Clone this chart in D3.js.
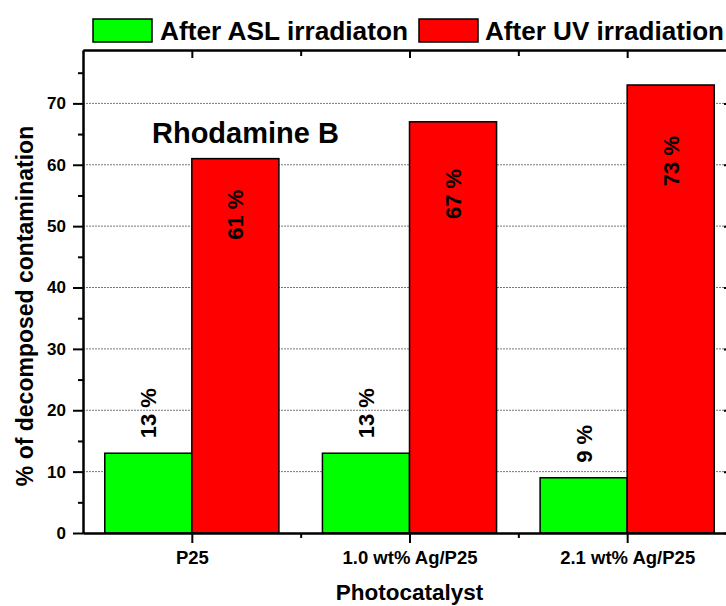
<!DOCTYPE html>
<html>
<head>
<meta charset="utf-8">
<script src="https://cdn.jsdelivr.net/npm/d3@7/dist/d3.min.js"></script>
<style>
  html, body { margin: 0; padding: 0; background: #fff; }
  svg { display: block; }
  text { font-family: "Liberation Sans", Arial, Helvetica, sans-serif; font-weight: bold; fill: #000; }
</style>
</head>
<body>
<svg id="chart" width="726" height="606"></svg>
<script>
// Photocatalytic decomposition of Rhodamine B
const categories = ["P25", "1.0 wt% Ag/P25", "2.1 wt% Ag/P25"];
const seriesNames = ["After ASL irradiaton", "After UV irradiation"];
const aslValues = [13, 13, 9];
const uvValues = [61, 67, 73];
const yTicks = [0, 10, 20, 30, 40, 50, 60, 70];
const yMinorTicks = [5, 15, 25, 35, 45, 55, 65, 75];
const valueSuffix = " %";

const colors = ["#00ff00", "#ff0000"];

const svg = d3.select("#chart");
const plot = { left: 83, right: 736, top: 50, bottom: 533 };

// categories sit at positions 1..n on a linear axis with half-step margins
const x = d3.scaleLinear()
  .domain([0.5, categories.length + 0.5])
  .range([plot.left, plot.right]);
const y = d3.scaleLinear()
  .domain([0, 78.7])
  .range([plot.bottom, plot.top]);

const catPos = categories.map((c, i) => i + 1);
const minorX = catPos.slice(0, -1).map(p => p + 0.5);
const barW = 0.4;

// dotted horizontal grid
svg.append("g")
  .selectAll("line")
  .data(yTicks.filter(t => t > 0))
  .join("line")
  .attr("x1", plot.left).attr("x2", plot.right)
  .attr("y1", d => y(d)).attr("y2", d => y(d))
  .attr("stroke", "#777")
  .attr("stroke-width", 1)
  .attr("stroke-dasharray", "2,1");

// bars
const series = [aslValues, uvValues];
series.forEach((vals, s) => {
  svg.append("g")
    .selectAll("rect")
    .data(vals)
    .join("rect")
    .attr("x", (d, i) => x(catPos[i] - barW + s * barW))
    .attr("width", x(barW) - x(0))
    .attr("y", d => y(d))
    .attr("height", d => y(0) - y(d))
    .attr("fill", colors[s])
    .attr("stroke", "#000")
    .attr("stroke-width", 1.5);
});

// value labels: above the green bars, inside the top of the red bars
const labelFont = 22;
svg.append("g")
  .selectAll("text")
  .data(aslValues)
  .join("text")
  .attr("transform", (d, i) => `translate(${x(catPos[i] - barW / 2)},${y(d) - 15}) rotate(-90)`)
  .attr("text-anchor", "start")
  .attr("dy", "0.36em")
  .style("font-size", labelFont + "px")
  .text(d => d + valueSuffix);

const uvLabelGap = [31, 47, 51];
svg.append("g")
  .selectAll("text")
  .data(uvValues)
  .join("text")
  .attr("transform", (d, i) => `translate(${x(catPos[i] + barW / 2)},${y(d) + uvLabelGap[i]}) rotate(-90)`)
  .attr("text-anchor", "end")
  .attr("dy", "0.36em")
  .style("font-size", labelFont + "px")
  .text(d => d + valueSuffix);

// axes
function styleAxis(g) {
  g.select(".domain").attr("stroke", "#000").attr("stroke-width", 2);
  g.selectAll(".tick line").attr("stroke", "#000").attr("stroke-width", 2);
}

// left
svg.append("g")
  .attr("transform", `translate(${plot.left},0)`)
  .call(d3.axisLeft(y).tickValues(yMinorTicks).tickSize(5).tickFormat("").tickSizeOuter(0))
  .call(styleAxis);
const yAxis = svg.append("g")
  .attr("transform", `translate(${plot.left},0)`)
  .call(d3.axisLeft(y).tickValues(yTicks).tickSize(10).tickPadding(7).tickSizeOuter(0))
  .call(styleAxis);
yAxis.selectAll(".tick text").style("font-size", "17px").attr("font-family", null);

// right (inward ticks)
svg.append("g")
  .attr("transform", `translate(${plot.right},0)`)
  .call(d3.axisLeft(y).tickValues(yTicks).tickSize(-0).tickFormat("").tickSizeOuter(0))
  .call(g => g.selectAll(".tick line").attr("x2", -12))
  .call(styleAxis);

// bottom
svg.append("g")
  .attr("transform", `translate(0,${plot.bottom})`)
  .call(d3.axisBottom(x).tickValues(minorX).tickSize(5).tickFormat("").tickSizeOuter(0))
  .call(styleAxis);
const xAxis = svg.append("g")
  .attr("transform", `translate(0,${plot.bottom})`)
  .call(d3.axisBottom(x).tickValues(catPos).tickSize(10).tickPadding(8)
    .tickFormat((d, i) => categories[i]).tickSizeOuter(0))
  .call(styleAxis);
xAxis.selectAll(".tick text").style("font-size", "18.5px").attr("font-family", null);

// top (inward ticks)
svg.append("g")
  .attr("transform", `translate(0,${plot.top})`)
  .call(d3.axisTop(x).tickValues(minorX).tickSize(-6).tickFormat("").tickSizeOuter(0))
  .call(styleAxis);
svg.append("g")
  .attr("transform", `translate(0,${plot.top})`)
  .call(d3.axisTop(x).tickValues(catPos).tickSize(-8).tickFormat("").tickSizeOuter(0))
  .call(styleAxis);

// axis titles
svg.append("text")
  .attr("transform", `translate(33,306) rotate(-90)`)
  .attr("text-anchor", "middle")
  .style("font-size", "23px")
  .text("% of decomposed contamination");

svg.append("text")
  .attr("x", x(2)).attr("y", 600)
  .attr("text-anchor", "middle")
  .style("font-size", "22.5px")
  .text("Photocatalyst");

// annotation
svg.append("text")
  .attr("x", 152).attr("y", 143)
  .style("font-size", "29px")
  .text("Rhodamine B");

// legend
const legend = [
  { name: seriesNames[0], color: colors[0], box: 93, text: 160, width: 248 },
  { name: seriesNames[1], color: colors[1], box: 419, text: 485, width: 239 }
];
const lg = svg.append("g");
legend.forEach(l => {
  lg.append("rect")
    .attr("x", l.box).attr("y", 19)
    .attr("width", 59).attr("height", 23)
    .attr("fill", l.color)
    .attr("stroke", "#000").attr("stroke-width", 1.5);
  lg.append("text")
    .attr("x", l.text).attr("y", 40)
    .style("font-family", '"Liberation Sans Narrow", "Liberation Sans", Arial, sans-serif')
    .style("font-size", "26px")
    .attr("textLength", l.width)
    .attr("lengthAdjust", "spacingAndGlyphs")
    .text(l.name);
});
</script>
</body>
</html>
